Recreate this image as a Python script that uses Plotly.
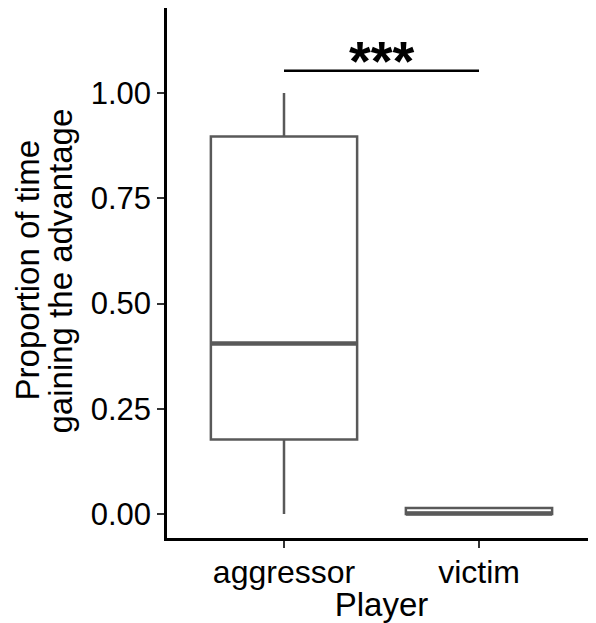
import plotly.graph_objects as go

categories = ["aggressor", "victim"]
lower_whisker = [0.0, 0.0]
q1 = [0.177, 0.0]
median = [0.405, 0.001]
q3 = [0.897, 0.014]
upper_whisker = [1.0, 0.014]
y_ticks = [0.0, 0.25, 0.5, 0.75, 1.0]
y_tick_labels = ["0.00", "0.25", "0.50", "0.75", "1.00"]
sig_label = "<b>***</b>"
sig_y = 1.053
y_title_lines = ["Proportion of time", "gaining the advantage"]
x_title = "Player"

positions = list(range(len(categories)))
box_color = "#595959"
BOX_W = 0.75
FONT = "Liberation Sans, Arial, Helvetica, sans-serif"

fig = go.Figure()
for i, cat in enumerate(categories):
    fig.add_trace(go.Box(
        x=[positions[i]], q1=[q1[i]], median=[median[i]], q3=[q3[i]],
        lowerfence=[lower_whisker[i]], upperfence=[upper_whisker[i]],
        width=BOX_W, fillcolor="white",
        line=dict(color=box_color, width=2.5),
        whiskerwidth=0, showlegend=False, hoverinfo="skip",
    ))
    fig.add_trace(go.Scatter(
        x=[positions[i] - BOX_W / 2, positions[i] + BOX_W / 2],
        y=[median[i], median[i]], mode="lines",
        line=dict(color=box_color, width=4.5), showlegend=False, hoverinfo="skip",
    ))

fig.add_trace(go.Scatter(
    x=[positions[0], positions[1]], y=[sig_y, sig_y], mode="lines",
    line=dict(color="black", width=2.5), showlegend=False, hoverinfo="skip",
))
fig.add_annotation(
    x=(positions[0] + positions[1]) / 2, y=sig_y, text=sig_label,
    showarrow=False, yanchor="middle", yshift=10,
    font=dict(family=FONT, size=56, color="black"),
)

for xp, line in zip([-0.3250, -0.2480], y_title_lines):
    fig.add_annotation(
        xref="paper", yref="paper", x=xp, y=0.504,
        text=line, textangle=-90,
        showarrow=False, xanchor="center", yanchor="middle",
        font=dict(family=FONT, size=33, color="black"),
    )

fig.update_layout(
    width=588, height=615,
    margin=dict(l=159, r=0, t=0, b=85, autoexpand=False),
    paper_bgcolor="white", plot_bgcolor="white",
    font=dict(family=FONT, color="black"),
    xaxis=dict(
        range=[-0.6, 1.6], tickvals=positions, ticktext=categories,
        showline=True, linecolor="black", linewidth=2.5, mirror=False,
        ticks="outside", ticklen=7, tickwidth=2, tickcolor="#333333",
        tickfont=dict(size=32, color="black"), showgrid=False, zeroline=False,
        automargin=False, ticklabelstandoff=-3,
        title=dict(text=x_title, font=dict(size=33, color="black"), standoff=2),
    ),
    yaxis=dict(
        range=[-0.057, 1.202], tickvals=y_ticks, ticktext=y_tick_labels,
        showline=True, linecolor="black", linewidth=2.5, automargin=False,
        ticks="outside", ticklen=7, tickwidth=2, tickcolor="#333333",
        tickfont=dict(size=31, color="black"), showgrid=False, zeroline=False,
    ),
)

fig.write_html("out.html")
